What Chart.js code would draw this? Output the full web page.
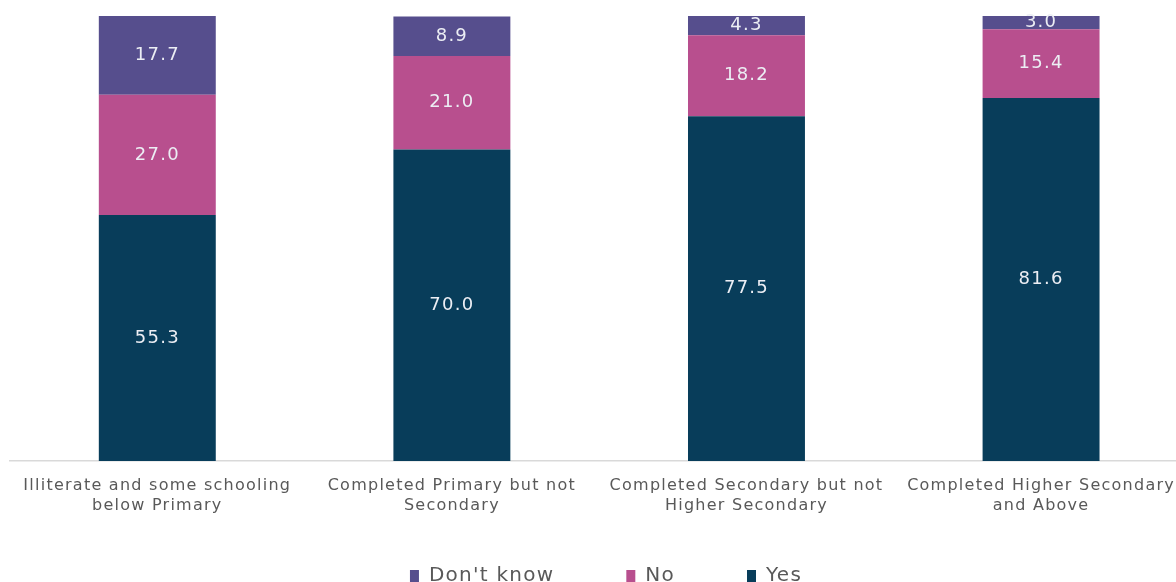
<!DOCTYPE html>
<html>
<head>
<meta charset="utf-8">
<script src="https://cdn.jsdelivr.net/npm/chart.js@4"></script>
<style>
  html, body { margin: 0; padding: 0; background: #ffffff; overflow: hidden; }
  #wrap { position: relative; width: 1190px; height: 596px; }
</style>
</head>
<body>
<div id="wrap"><canvas id="eduChart"></canvas></div>
<script>
/* ==========================================
   Data
========================================== */
const categories = [
  ["Illiterate and some schooling", "below Primary"],
  ["Completed Primary but not", "Secondary"],
  ["Completed Secondary but not", "Higher Secondary"],
  ["Completed Higher Secondary", "and Above"]
];
const yesValues = [55.3, 70.0, 77.5, 81.6];
const noValues = [27.0, 21.0, 18.2, 15.4];
const dontKnowValues = [17.7, 8.9, 4.3, 3.0];

const FONT = "DejaVu Sans, sans-serif";

/* wide letter spacing like the original chart font,
   and let the two-line x labels spill past the squeezed axis box */
const spacing = {
  id: "spacing",
  beforeLayout(chart) { chart.ctx.letterSpacing = "1.25px"; },
  afterLayout(chart) {
    const x = chart.scales.x;
    x.bottom = x.top + 60;
    // legend sits a little right of centre in the original
    chart.legend.left += 6;
    chart.legend.right += 6;
  },
  beforeDraw(chart) { chart.ctx.letterSpacing = "1.25px"; }
};

/* value labels inside each segment */
const segmentLabels = {
  id: "segmentLabels",
  afterDatasetsDraw(chart) {
    const ctx = chart.ctx;
    ctx.save();
    ctx.font = "18px " + FONT;
    ctx.fillStyle = "#eceef4";
    ctx.textAlign = "center";
    ctx.textBaseline = "middle";
    chart.data.datasets.forEach((ds, i) => {
      const meta = chart.getDatasetMeta(i);
      meta.data.forEach((bar, j) => {
        const mid = (bar.y + bar.base) / 2;
        ctx.fillText(ds.data[j].toFixed(1), bar.x, mid);
      });
    });
    ctx.restore();
  }
};

new Chart(document.getElementById("eduChart"), {
  type: "bar",
  data: {
    labels: categories,
    datasets: [
      { label: "Yes", data: yesValues, backgroundColor: "#083d5a" },
      { label: "No", data: noValues, backgroundColor: "#b84f8e" },
      { label: "Don't know", data: dontKnowValues, backgroundColor: "#564e8d" }
    ]
  },
  options: {
    responsive: true,
    maintainAspectRatio: false,
    animation: false,
    layout: { padding: { left: 10, right: 0, top: 16, bottom: 0 } },
    datasets: {
      bar: { categoryPercentage: 1, barPercentage: 0.397, borderWidth: 0 }
    },
    plugins: {
      legend: {
        position: "bottom",
        reverse: true,
        labels: {
          font: { family: FONT, size: 20 },
          color: "#595959",
          boxWidth: 9,
          boxHeight: 12,
          padding: 72
        }
      },
      tooltip: { enabled: false }
    },
    scales: {
      x: {
        stacked: true,
        grid: { display: false, drawTicks: false },
        border: { display: true, color: "#d9d9d9", width: 1.5 },
        ticks: {
          font: { family: FONT, size: 16, lineHeight: 1.25 },
          color: "#595959",
          padding: 15,
          maxRotation: 0,
          autoSkip: false
        },
        afterFit(scale) { scale.height = 33; }
      },
      y: {
        stacked: true,
        display: false,
        min: 0,
        max: 100
      }
    }
  },
  plugins: [spacing, segmentLabels]
});
</script>
</body>
</html>
